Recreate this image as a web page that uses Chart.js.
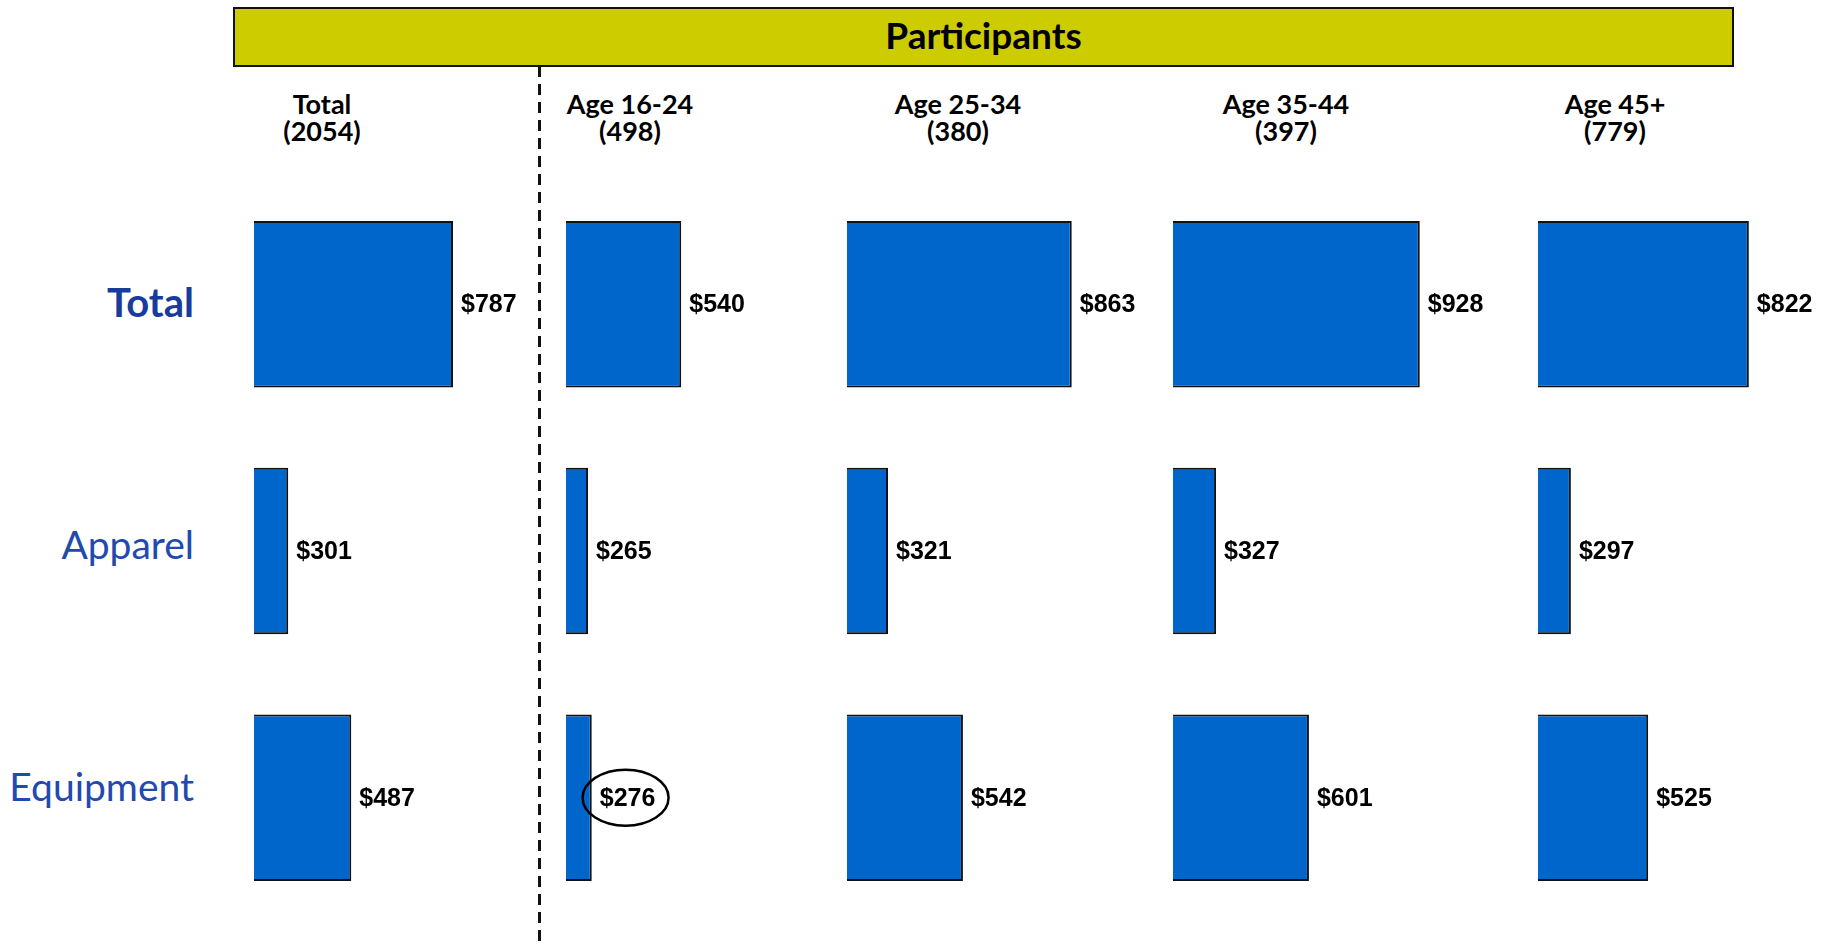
<!DOCTYPE html>
<html>
<head>
<meta charset="utf-8">
<script src="https://cdn.jsdelivr.net/npm/chart.js@4.4.1/dist/chart.umd.min.js"></script>
<style>
  html, body { margin: 0; padding: 0; background: #fff; }
  body { width: 1833px; height: 944px; position: relative; overflow: hidden; font-family: Lato, "Noto Sans", sans-serif; }
  .banner {
    position: absolute; left: 233px; top: 7px; width: 1497px; height: 56px;
    background: #cccc00; border: 2.5px solid #111; box-sizing: content-box;
    display: flex; align-items: center; justify-content: center;
    font-size: 37px; font-weight: 700; color: #000; padding-bottom: 0;
  }
  .banner span { position: relative; top: -3px; }
  .colhead {
    position: absolute; width: 260px; text-align: center;
    font-size: 27px; font-weight: 700; line-height: 27px; color: #000;
  }
  .rowlab {
    position: absolute; right: 1639px; text-align: right; white-space: nowrap;
    color: #2249b0; font-size: 39px; transform: translateY(-50%);
  }
  .rowlab.main { color: #183c9c; font-weight: 700; font-size: 40px; }
  .divider {
    position: absolute; left: 538px; top: 66px; width: 2.5px; height: 880px;
    background: repeating-linear-gradient(to bottom, #111 0, #111 11px, transparent 11px, transparent 18px);
  }
  .col { position: absolute; top: 181px; width: 330px; height: 740px; }
</style>
</head>
<body>
<div class="banner"><span>Participants</span></div>
<div class="divider"></div>
<div id="heads"></div>
<div id="rows"></div>
<div id="charts"></div>
<script>
var groups = ['Total', 'Age 16-24', 'Age 25-34', 'Age 35-44', 'Age 45+'];
var groupBases = [2054, 498, 380, 397, 779];
var categories = ['Total', 'Apparel', 'Equipment'];

// spend per participant, one array per column: Total, Apparel, Equipment
var spendTotal = [787, 301, 487];
var spend1624 = [540, 265, 276];
var spend2534 = [863, 321, 542];
var spend3544 = [928, 327, 601];
var spend45 = [822, 297, 525];
var columnValues = [spendTotal, spend1624, spend2534, spend3544, spend45];

// the value that is circled in the picture
var circled = { column: 1, row: 2 };

var AXIS_MIN = 200;
var PX_PER_DOLLAR = 0.339;
var columnLeft = [254, 566, 847, 1173, 1538];
var headCenter = [322, 630, 958, 1286, 1615];
var rowCenter = [302, 544, 786];

var heads = document.getElementById('heads');
groups.forEach(function (name, i) {
  var el = document.createElement('div');
  el.className = 'colhead';
  el.style.left = (headCenter[i] - 130) + 'px';
  el.style.top = '90px';
  el.innerHTML = name + '<br>(' + groupBases[i] + ')';
  heads.appendChild(el);
});

var rows = document.getElementById('rows');
categories.forEach(function (name, i) {
  var el = document.createElement('div');
  el.className = 'rowlab' + (i === 0 ? ' main' : '');
  el.style.top = rowCenter[i] + 'px';
  el.textContent = name;
  rows.appendChild(el);
});

var valueLabels = {
  id: 'valueLabels',
  afterDatasetsDraw: function (chart) {
    var ctx = chart.ctx;
    var meta = chart.getDatasetMeta(0);
    var col = chart.options.plugins.valueLabels.column;
    ctx.save();
    ctx.font = 'bold 25px "Liberation Sans", Arial, sans-serif';
    ctx.fillStyle = '#000';
    ctx.textBaseline = 'middle';
    ctx.textAlign = 'left';
    meta.data.forEach(function (bar, i) {
      var text = '$' + chart.data.datasets[0].data[i];
      var x = bar.x + 8;
      ctx.fillText(text, x, bar.y + 1);
      if (col === circled.column && i === circled.row) {
        var w = ctx.measureText(text).width;
        ctx.beginPath();
        ctx.ellipse(x + w / 2 - 2, bar.y, 43, 28, 0, 0, Math.PI * 2);
        ctx.lineWidth = 2.5;
        ctx.strokeStyle = '#000';
        ctx.stroke();
      }
    });
    ctx.restore();
  }
};

var chartsBox = document.getElementById('charts');
columnValues.forEach(function (values, c) {
  var wrap = document.createElement('div');
  wrap.className = 'col';
  wrap.style.left = columnLeft[c] + 'px';
  var canvas = document.createElement('canvas');
  wrap.appendChild(canvas);
  chartsBox.appendChild(wrap);

  new Chart(canvas.getContext('2d'), {
    type: 'bar',
    data: {
      labels: categories,
      datasets: [{
        data: values,
        backgroundColor: '#0066cc',
        borderColor: '#111',
        borderWidth: 2,
        borderSkipped: false,
        barPercentage: 0.675,
        categoryPercentage: 1
      }]
    },
    options: {
      indexAxis: 'y',
      responsive: true,
      maintainAspectRatio: false,
      animation: false,
      layout: { padding: 0 },
      scales: {
        x: { display: false, min: AXIS_MIN, max: AXIS_MIN + 330 / PX_PER_DOLLAR },
        y: { display: false }
      },
      plugins: {
        legend: { display: false },
        tooltip: { enabled: false },
        valueLabels: { column: c }
      }
    },
    plugins: [valueLabels]
  });
});
</script>
</body>
</html>
